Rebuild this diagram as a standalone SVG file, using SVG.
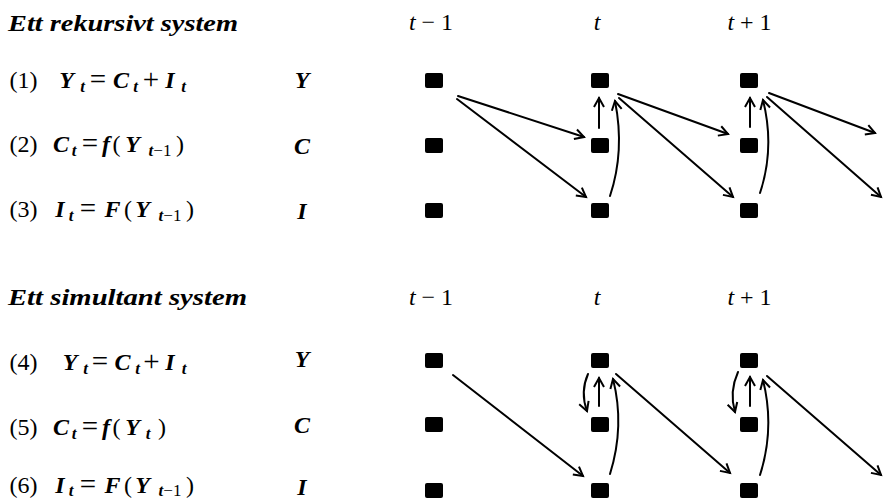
<svg xmlns="http://www.w3.org/2000/svg" width="883" height="500" viewBox="0 0 883 500">
<style>
text{font-family:"Liberation Serif","Times New Roman",serif;font-size:24px;fill:#000;text-anchor:middle}
.i{font-style:italic;font-weight:bold}
.u{font-style:normal}
.o{font-style:normal;font-size:29px}
.s{font-style:italic;font-weight:bold;font-size:17px}
.su{font-style:normal;font-weight:normal;font-size:17px}
.h{font-style:italic;font-weight:bold;font-size:24px;text-anchor:start}
.node rect{fill:#000}
.conn path{fill:none;stroke:#000;stroke-width:2;stroke-linecap:round}
</style>
<defs>
<marker id="ah" markerUnits="userSpaceOnUse" markerWidth="14" markerHeight="14" viewBox="0 0 14 14" refX="11" refY="7" orient="auto">
<path d="M2,2 L11,7 L2,12" fill="none" stroke="#000" stroke-width="2" stroke-linejoin="miter"/>
</marker>
</defs>

<g id="text-top">
<text class="h" x="8" y="31" textLength="230" lengthAdjust="spacingAndGlyphs">Ett rekursivt system</text>
<text><tspan class="u" x="23.5" y="88">(1)</tspan><tspan class="i" x="66.5" y="88">Y</tspan><tspan class="s" x="82.5" y="92">t</tspan><tspan class="o" x="98" y="89">=</tspan><tspan class="i" x="121" y="88">C</tspan><tspan class="s" x="135.5" y="92">t</tspan><tspan class="o" x="151" y="89">+</tspan><tspan class="i" x="170" y="88">I</tspan><tspan class="s" x="183.5" y="92">t</tspan></text>
<text><tspan class="u" x="23.5" y="152">(2)</tspan><tspan class="i" x="61" y="152">C</tspan><tspan class="s" x="74" y="156">t</tspan><tspan class="o" x="90" y="153">=</tspan><tspan class="i" x="106" y="152">f</tspan><tspan class="u" x="116.5" y="152">(</tspan><tspan class="i" x="132.5" y="152">Y</tspan><tspan class="s" x="160" y="156">t<tspan class="su">−1</tspan></tspan><tspan class="u" x="180" y="152">)</tspan></text>
<text><tspan class="u" x="23.5" y="217">(3)</tspan><tspan class="i" x="60" y="217">I</tspan><tspan class="s" x="71" y="221">t</tspan><tspan class="o" x="88" y="218">=</tspan><tspan class="i" x="112.5" y="217">F</tspan><tspan class="u" x="128" y="217">(</tspan><tspan class="i" x="142.5" y="217">Y</tspan><tspan class="s" x="170" y="221">t<tspan class="su">−1</tspan></tspan><tspan class="u" x="190" y="217">)</tspan></text>
<text class="i" x="302" y="88">Y</text>
<text class="i" x="302" y="154">C</text>
<text class="i" x="302" y="219">I</text>
<text x="431" y="30"><tspan class="i" style="font-weight:normal">t</tspan> − 1</text>
<text class="i" x="597" y="30" style="font-weight:normal">t</text>
<text x="749.5" y="30"><tspan class="i" style="font-weight:normal">t</tspan> + 1</text>
</g>

<g id="text-bottom">
<text class="h" x="8" y="305" textLength="239" lengthAdjust="spacingAndGlyphs">Ett simultant system</text>
<text><tspan class="u" x="23.5" y="370">(4)</tspan><tspan class="i" x="70" y="370">Y</tspan><tspan class="s" x="85.5" y="374">t</tspan><tspan class="o" x="100" y="371">=</tspan><tspan class="i" x="122.5" y="370">C</tspan><tspan class="s" x="137.5" y="374">t</tspan><tspan class="o" x="151.5" y="371">+</tspan><tspan class="i" x="170" y="370">I</tspan><tspan class="s" x="184" y="374">t</tspan></text>
<text><tspan class="u" x="23.5" y="435">(5)</tspan><tspan class="i" x="61" y="435">C</tspan><tspan class="s" x="74" y="439">t</tspan><tspan class="o" x="90" y="436">=</tspan><tspan class="i" x="106" y="435">f</tspan><tspan class="u" x="116.5" y="435">(</tspan><tspan class="i" x="132.5" y="435">Y</tspan><tspan class="s" x="148" y="439">t</tspan><tspan class="u" x="162" y="435">)</tspan></text>
<text><tspan class="u" x="23.5" y="493">(6)</tspan><tspan class="i" x="60" y="493">I</tspan><tspan class="s" x="71" y="496">t</tspan><tspan class="o" x="88" y="494">=</tspan><tspan class="i" x="112.5" y="493">F</tspan><tspan class="u" x="128" y="493">(</tspan><tspan class="i" x="142.5" y="493">Y</tspan><tspan class="s" x="170" y="496">t<tspan class="su">−1</tspan></tspan><tspan class="u" x="190" y="493">)</tspan></text>
<text class="i" x="302" y="367">Y</text>
<text class="i" x="302" y="433">C</text>
<text class="i" x="302" y="495">I</text>
<text x="431" y="305"><tspan class="i" style="font-weight:normal">t</tspan> − 1</text>
<text class="i" x="597" y="305" style="font-weight:normal">t</text>
<text x="749.5" y="305"><tspan class="i" style="font-weight:normal">t</tspan> + 1</text>
</g>

<g id="Y-tm1-a" class="node"><rect x="425" y="73" width="18" height="15" rx="2"/></g>
<g id="C-tm1-a" class="node"><rect x="425" y="138" width="18" height="15" rx="2"/></g>
<g id="I-tm1-a" class="node"><rect x="425" y="203" width="18" height="15" rx="2"/></g>
<g id="Y-t-a" class="node"><rect x="591" y="73" width="18" height="15" rx="2"/></g>
<g id="C-t-a" class="node"><rect x="591" y="138" width="18" height="15" rx="2"/></g>
<g id="I-t-a" class="node"><rect x="591" y="203" width="18" height="15" rx="2"/></g>
<g id="Y-tp1-a" class="node"><rect x="740" y="73" width="18" height="15" rx="2"/></g>
<g id="C-tp1-a" class="node"><rect x="740" y="138" width="18" height="15" rx="2"/></g>
<g id="I-tp1-a" class="node"><rect x="740" y="203" width="18" height="15" rx="2"/></g>

<g id="Y-tm1-b" class="node"><rect x="425" y="353" width="18" height="15" rx="2"/></g>
<g id="C-tm1-b" class="node"><rect x="425" y="417" width="18" height="15" rx="2"/></g>
<g id="I-tm1-b" class="node"><rect x="425" y="483" width="18" height="15" rx="2"/></g>
<g id="Y-t-b" class="node"><rect x="591" y="353" width="18" height="15" rx="2"/></g>
<g id="C-t-b" class="node"><rect x="591" y="417" width="18" height="15" rx="2"/></g>
<g id="I-t-b" class="node"><rect x="591" y="483" width="18" height="15" rx="2"/></g>
<g id="Y-tp1-b" class="node"><rect x="740" y="353" width="18" height="15" rx="2"/></g>
<g id="C-tp1-b" class="node"><rect x="740" y="417" width="18" height="15" rx="2"/></g>
<g id="I-tp1-b" class="node"><rect x="740" y="483" width="18" height="15" rx="2"/></g>

<g id="connectors" class="conn">
<path d="M458,96 L584,137" marker-end="url(#ah)"/>
<path d="M457,99 L586,197" marker-end="url(#ah)"/>
<path d="M599,128 L599,98" marker-end="url(#ah)"/>
<path d="M610,196 Q625,151 615,101" marker-end="url(#ah)"/>
<path d="M618,94 L728,134" marker-end="url(#ah)"/>
<path d="M619,98 L733,197" marker-end="url(#ah)"/>
<path d="M750,127 L750,98" marker-end="url(#ah)"/>
<path d="M760,193 Q775,148 763,100" marker-end="url(#ah)"/>
<path d="M769,93 L875,133" marker-end="url(#ah)"/>
<path d="M767,97 L881,197" marker-end="url(#ah)"/>

<path d="M453,375 L583,476" marker-end="url(#ah)"/>
<path d="M588,374 Q580,392 587,411" marker-end="url(#ah)"/>
<path d="M599,406 L599,378" marker-end="url(#ah)"/>
<path d="M610,474 Q625,426 613,379" marker-end="url(#ah)"/>
<path d="M616,374 L730,473" marker-end="url(#ah)"/>
<path d="M738,372 Q729,392 735,412" marker-end="url(#ah)"/>
<path d="M750,406 L750,377" marker-end="url(#ah)"/>
<path d="M760,475 Q775,428 763,380" marker-end="url(#ah)"/>
<path d="M767,376 L881,475" marker-end="url(#ah)"/>
</g>
</svg>
